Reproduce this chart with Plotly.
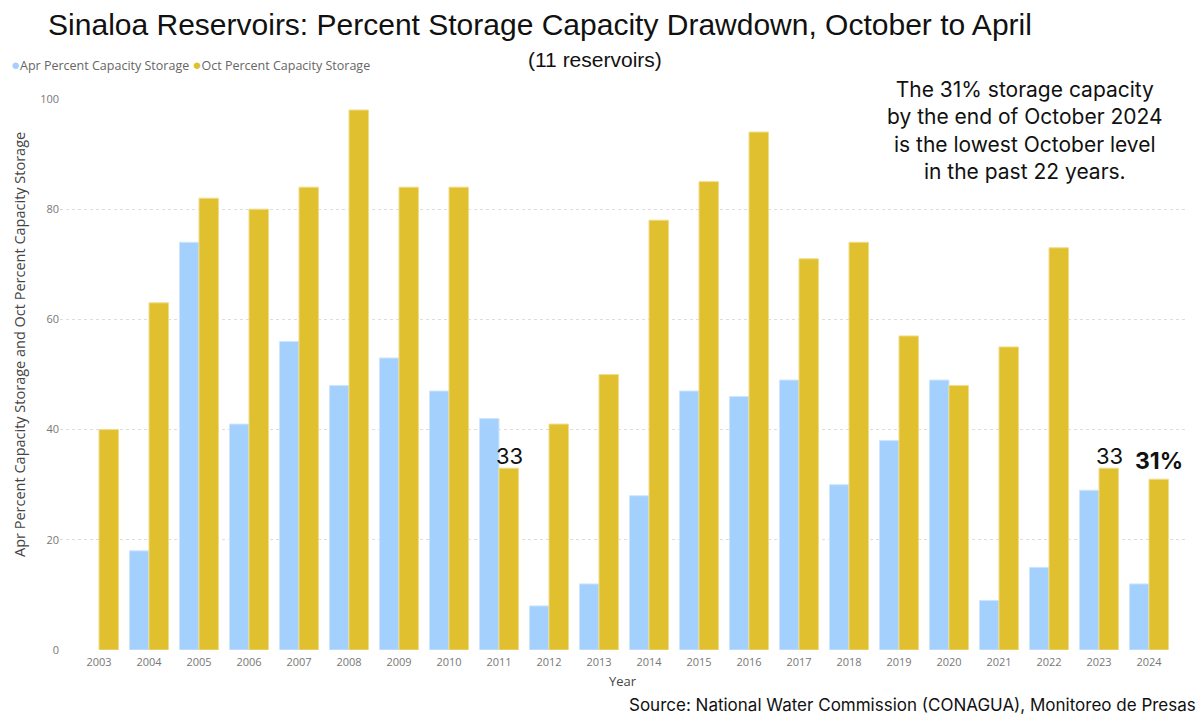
import plotly.graph_objects as go

years = [str(y) for y in range(2003, 2025)]
apr_pct = [None, 18, 74, 41, 56, 48, 53, 47, 42, 8, 12, 28, 47, 46, 49, 30, 38, 49, 9, 15, 29, 12]
oct_pct = [40, 63, 82, 80, 84, 98, 84, 84, 33, 41, 50, 78, 85, 94, 71, 74, 57, 48, 55, 73, 33, 31]
yticks = [0, 20, 40, 60, 80, 100]

BLUE = "#A3D0FC"
GOLD = "#E0C02F"

fig = go.Figure()
fig.add_trace(go.Bar(x=years, y=apr_pct, name="Apr Percent Capacity Storage",
                     marker=dict(color=BLUE, line=dict(color="#CFE6FD", width=1)),
                     showlegend=False))
fig.add_trace(go.Bar(x=years, y=oct_pct, name="Oct Percent Capacity Storage",
                     marker=dict(color=GOLD, line=dict(color="#F0DC8A", width=1)),
                     showlegend=False))

# value labels
for yr, txt, bold in [("2011", "33", False), ("2023", "33", False), ("2024", "31%", True)]:
    idx = years.index(yr)
    fig.add_annotation(x=idx, y=oct_pct[idx], text=f"<b>{txt}</b>" if bold else txt,
                       showarrow=False, xshift=10, yanchor="bottom", yshift=(2 if bold else -3),
                       font=dict(family="Inter, Roboto, Arial", size=(23 if bold else 22), color="#111"))

# legend drawn as text
fig.add_annotation(xref="paper", yref="paper", x=(9 - 60) / 1125, y=(650 - 64) / 551,
                   xanchor="left", yanchor="middle", showarrow=False, align="left",
                   text=(f"<span style='color:{BLUE};font-size:15px'>●</span>Apr Percent Capacity Storage "
                         f"<span style='color:{GOLD};font-size:15px'>●</span>Oct Percent Capacity Storage"),
                   font=dict(family="Open Sans, Noto Sans, sans-serif", size=12.5, color="#666"))

# y-axis title
fig.add_annotation(xref="paper", yref="paper", x=(19 - 60) / 1125, y=(650 - 345) / 551,
                   xanchor="center", yanchor="middle", textangle=-90, showarrow=False,
                   text="Apr Percent Capacity Storage and Oct Percent Capacity Storage",
                   font=dict(family="Open Sans, Noto Sans, sans-serif", size=14.5, color="#444"))

fig.add_annotation(xref="paper", yref="paper", x=(1025 - 60) / 1125, y=(650 - 131) / 551,
                   xanchor="center", yanchor="middle",
                   text="The 31% storage capacity<br>by the end of October 2024<br>is the lowest October level<br>in the past 22 years.",
                   showarrow=False, align="center",
                   font=dict(family="Inter, Roboto, Arial", size=21, color="#111"))

fig.add_annotation(xref="paper", yref="paper", x=(595 - 60) / 1125, y=(650 - 59) / 551,
                   xanchor="center", yanchor="middle",
                   text="(11 reservoirs)", showarrow=False,
                   font=dict(family="Liberation Sans, Arial, sans-serif", size=21, color="#111"))

fig.add_annotation(xref="paper", yref="paper", x=(1198 - 60) / 1125, y=(650 - 705) / 551,
                   xanchor="right", yanchor="middle",
                   text="Source: National Water Commission (CONAGUA), Monitoreo de Presas",
                   showarrow=False,
                   font=dict(family="Inter, Roboto, Arial", size=17, color="#111"))

fig.update_layout(
    width=1202, height=715,
    margin=dict(l=60, r=17, t=99, b=65),
    paper_bgcolor="white", plot_bgcolor="white",
    barmode="group", bargap=0.22, bargroupgap=0,
    showlegend=False,
    title=dict(text="Sinaloa Reservoirs: Percent Storage Capacity Drawdown, October to April",
               x=540 / 1202, xanchor="center", xref="container", y=1 - 24 / 715, yref="container",
               yanchor="middle",
               font=dict(family="Liberation Sans, Arial, sans-serif", size=30, color="#111")),
    font=dict(family="Open Sans, Noto Sans, sans-serif"),
)
fig.update_xaxes(type="category", range=[-0.78, 21.72], showgrid=False, showline=False, ticks="",
                 automargin=False, ticklabelstandoff=4,
                 tickfont=dict(size=11, color="#777"),
                 title=dict(text="Year", font=dict(size=13, color="#444"), standoff=8))
fig.update_yaxes(range=[0, 100], tickvals=yticks, showgrid=True, gridcolor="#DDDDDD", griddash="dot",
                 gridwidth=1, zeroline=False, showline=False, ticks="", automargin=False,
                 tickfont=dict(size=11, color="#777"))

fig.write_html("out.html", config={"displayModeBar": False},
               post_script="document.body.style.margin='0';")
